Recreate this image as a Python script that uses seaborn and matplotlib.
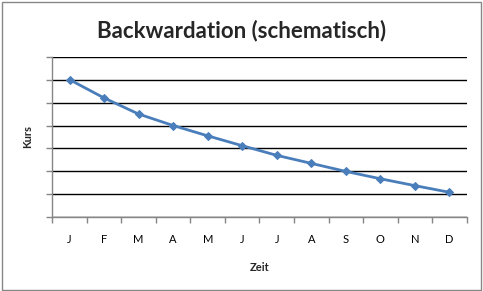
import matplotlib
matplotlib.use("Agg")
import matplotlib.pyplot as plt
import seaborn as sns
import numpy as np
import pandas as pd
from matplotlib.patches import Rectangle
from matplotlib.ticker import FixedLocator, NullFormatter

months = ["J", "F", "M", "A", "M", "J", "J", "A", "S", "O", "N", "D"]
kurs = [6.0, 5.2, 4.5, 4.0, 3.55, 3.12, 2.7, 2.35, 2.0, 1.68, 1.38, 1.09]
y_max = 7

sns.set_theme(style="white")
plt.rcParams['font.family'] = ['Lato', 'DejaVu Sans']

df = pd.DataFrame({"pos": np.arange(len(months)), "kurs": kurs})

fig = plt.figure(figsize=(4.83, 2.91), dpi=100)
ax = fig.add_axes([0.1083, 0.2533, 0.9662 - 0.1083, 0.8052 - 0.2533])

sns.lineplot(data=df, x="pos", y="kurs", ax=ax, color="#4A7EBB", linewidth=2.0,
             marker="D", markersize=4.5, markeredgecolor="#4A7EBB", markerfacecolor="#4A7EBB")

ax.set_xlim(-0.5, len(months) - 0.5)
ax.set_ylim(0, y_max)

ax.set_yticks(np.arange(0, y_max + 1))
ax.yaxis.set_major_formatter(NullFormatter())
ax.yaxis.grid(True, color="black", linewidth=1.0)
ax.xaxis.grid(False)

ax.set_xticks(np.arange(len(months)))
ax.set_xticklabels(months, fontsize=8)
ax.xaxis.set_minor_locator(FixedLocator(np.arange(-0.5, len(months), 1.0)))
ax.tick_params(axis="x", which="major", length=0, pad=12, labelcolor="black")
ax.tick_params(axis="x", which="minor", length=4, width=1, color="#868686", direction="out", bottom=True)
ax.tick_params(axis="y", which="major", length=4, width=1, color="#868686", direction="out", left=True)

for s in ["top", "right"]:
    ax.spines[s].set_visible(False)
for s in ["left", "bottom"]:
    ax.spines[s].set_color("#868686")
    ax.spines[s].set_linewidth(1.0)

ax.set_xlabel("Zeit", fontsize=8, fontweight="bold", labelpad=12)
ax.set_ylabel("Kurs", fontsize=8, fontweight="bold", labelpad=6)

fig.text(0.5, 1 - 31 / 291, "Backwardation (schematisch)", ha="center", va="center",
         fontsize=16, fontweight="bold")

fig.patches.append(Rectangle((1.5 / 483, 1.5 / 291), 1 - 3.5 / 483, 1 - 3.5 / 291,
                             transform=fig.transFigure, fill=False,
                             edgecolor="#878787", linewidth=1.0))

fig.savefig("out.png", dpi=100)
